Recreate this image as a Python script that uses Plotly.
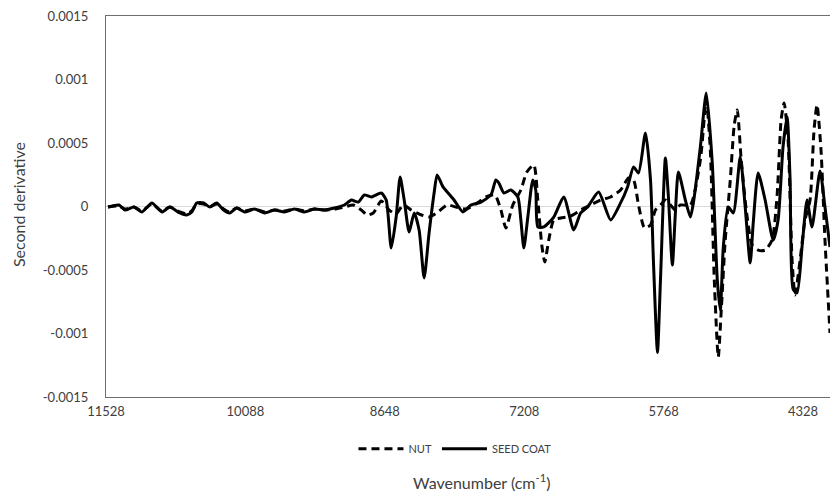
import numpy as np
import plotly.graph_objects as go

# Second-derivative NIR spectra, values in units of 1e-4
nut_wn = [11507, 11394, 11332, 11240, 11157, 11054, 10951, 10869, 10766, 10694,
          10642, 10591, 10519, 10457, 10385, 10313, 10251, 10179, 10096, 9993,
          9890, 9787, 9684, 9581, 9478, 9375, 9272, 9169, 9066, 8974,
          8891, 8830, 8768, 8685, 8603, 8531, 8459, 8376, 8294, 8191,
          8098, 8005, 7913, 7810, 7707, 7604, 7511, 7449, 7398, 7326,
          7243, 7181, 7109, 7068, 7027, 6996, 6955, 6903, 6831, 6728,
          6625, 6522, 6419, 6316, 6213, 6131, 6079, 6028, 5966, 5904,
          5853, 5801, 5750, 5698, 5647, 5595, 5492, 5389, 5328, 5286,
          5245, 5204, 5173, 5132, 5080, 5039, 5008, 4967, 4915, 4854,
          4792, 4720, 4648, 4596, 4555, 4524, 4483, 4442, 4411, 4359,
          4308, 4256, 4215, 4184, 4143, 4102, 4050]
nut_e4 = [-0.04, 0.04, -0.20, -0.04, -0.35, 0.20, -0.35, -0.04, -0.43, -0.59,
          -0.35, 0.20, 0.20, -0.04, 0.20, -0.20, -0.43, -0.12, -0.35, -0.20,
          -0.43, -0.28, -0.35, -0.20, -0.35, -0.20, -0.28, -0.20, -0.04, 0.12,
          -0.28, -0.67, -0.51, 0.43, -0.28, -0.59, 0.12, -0.28, -0.59, -0.83,
          -0.43, 0.12, -0.04, -0.20, 0.20, 0.75, 0.91, -0.28, -1.69, 0.12,
          1.30, 2.72, 3.27, 0.51, -3.03, -4.37, -2.64, -1.06, -0.91, -0.75,
          -0.28, 0.12, 0.51, 0.75, 1.30, 2.24, 2.09, 0.12, -1.69, -1.46,
          -0.28, 0.12, 0.51, 0.12, -0.28, 0.12, 0.12, 3.66, 8.39, 4.45,
          -5.79, -11.85, -8.15, -2.64, 2.09, 6.42, 7.60, 3.66, -0.28, -3.03,
          -3.43, -3.43, -2.64, 0.91, 6.81, 8.15, 5.24, -4.21, -6.97, -4.21,
          -1.06, 0.51, 6.02, 8.00, 4.45, -2.64, -9.96]

seed_wn = [11507, 11394, 11332, 11240, 11157, 11054, 10951, 10869, 10766, 10694,
           10642, 10591, 10519, 10457, 10385, 10313, 10251, 10179, 10096, 9993,
           9890, 9787, 9684, 9581, 9478, 9375, 9272, 9169, 9066, 8994,
           8922, 8860, 8788, 8685, 8634, 8582, 8531, 8490, 8448, 8397,
           8345, 8294, 8242, 8191, 8139, 8108, 8047, 7995, 7933, 7841,
           7758, 7655, 7552, 7501, 7470, 7418, 7346, 7274, 7243, 7212,
           7171, 7120, 7089, 7068, 7006, 6903, 6800, 6697, 6625, 6553,
           6440, 6316, 6213, 6141, 6079, 6028, 5956, 5904, 5873, 5832,
           5801, 5750, 5719, 5678, 5647, 5616, 5544, 5492, 5461, 5389,
           5328, 5266, 5214, 5183, 5152, 5101, 5049, 4977, 4926, 4874,
           4843, 4792, 4720, 4637, 4586, 4535, 4493, 4462, 4431, 4390,
           4339, 4287, 4236, 4153, 4102, 4050]
seed_e4 = [-0.04, 0.12, -0.28, -0.04, -0.43, 0.28, -0.43, -0.04, -0.51, -0.67,
           -0.43, 0.28, 0.28, -0.04, 0.28, -0.28, -0.51, -0.12, -0.43, -0.20,
           -0.51, -0.28, -0.43, -0.20, -0.43, -0.20, -0.28, -0.12, 0.12, 0.51,
           0.35, 0.91, 0.75, 1.06, 0.51, -3.27, -0.83, 2.32, 0.51, -2.01,
           -0.51, -1.85, -5.63, -2.09, 1.06, 2.48, 1.54, 1.06, 0.51, -0.43,
           0.12, 0.35, 0.91, 2.09, 1.85, 1.06, 1.30, 0.75, -1.06, -3.27,
           -0.83, 2.09, 1.30, -1.61, -1.61, -0.83, 0.75, -1.85, -0.51, -0.04,
           1.14, -1.06, 0.28, 1.54, 3.11, 2.64, 5.79, 2.09, -4.45, -11.5,
           -5.79, 3.82, 0.75, -4.61, -0.51, 2.72, 0.51, -0.83, 0.28, 4.69,
           8.94, 3.43, -5.79, -8.15, -3.19, -0.04, -0.51, 3.90, -0.04, -4.45,
           -1.30, 2.64, 0.51, -2.64, -1.06, 4.69, 7.05, 2.09, -6.50, -6.80,
           -3.19, 0.51, -1.61, 2.80, -0.04, -3.19]

x_ticks = [11528, 10088, 8648, 7208, 5768, 4328]
y_ticks = [-0.0015, -0.001, -0.0005, 0, 0.0005, 0.001, 0.0015]
y_tick_text = ["-0.0015", "-0.001", "-0.0005", "0", "0.0005", "0.001", "0.0015"]

FONT = "Lato, 'Open Sans', sans-serif"
AXIS_GREY = "#6e6e6e"
TEXT_GREY = "#404040"

fig = go.Figure()
fig.add_trace(go.Scatter(
    x=nut_wn, y=np.array(nut_e4) * 1e-4, name="NUT", mode="lines",
    line=dict(color="black", width=3, dash="8px,5px", shape="spline", smoothing=0.6),
))
fig.add_trace(go.Scatter(
    x=seed_wn, y=np.array(seed_e4) * 1e-4, name="SEED COAT", mode="lines",
    line=dict(color="black", width=3, shape="spline", smoothing=0.6),
))

fig.update_layout(
    width=830, height=493,
    margin=dict(l=106, r=0, t=16, b=96),
    paper_bgcolor="white", plot_bgcolor="white",
    font=dict(family=FONT, color=TEXT_GREY, size=11),
    showlegend=True,
    legend=dict(
        orientation="h", x=0.482, xanchor="center", y=-0.136, yanchor="middle",
        font=dict(size=11, color=TEXT_GREY), bgcolor="rgba(0,0,0,0)",
        itemwidth=45,
    ),
    xaxis=dict(
        range=[11528, 4050], tickvals=x_ticks, ticktext=[str(v) for v in x_ticks],
        showgrid=False, zeroline=False, showline=True, linecolor=AXIS_GREY,
        linewidth=1, mirror=True, ticks="", ticklabelstandoff=2,
        tickfont=dict(size=13, color=TEXT_GREY),
    ),
    yaxis=dict(
        range=[-0.0015, 0.0015], tickvals=y_ticks, ticktext=y_tick_text,
        showgrid=False, zeroline=True, zerolinecolor="#d9d9d9", zerolinewidth=1,
        showline=True, linecolor=AXIS_GREY, linewidth=1, ticks="",
        ticklabelstandoff=14, tickfont=dict(size=13, color=TEXT_GREY),
    ),
    annotations=[
        dict(text="Wavenumber (cm<sup>-1</sup>)", xref="paper", yref="paper",
             x=0.518, y=-0.222, xanchor="center", yanchor="middle",
             showarrow=False, font=dict(size=16, color=TEXT_GREY)),
        dict(text="Second derivative", xref="paper", yref="paper",
             x=-0.120, y=0.504, xanchor="center", yanchor="middle",
             textangle=-90, showarrow=False, font=dict(size=16, color=TEXT_GREY)),
    ],
)

fig.write_html("out.html")
